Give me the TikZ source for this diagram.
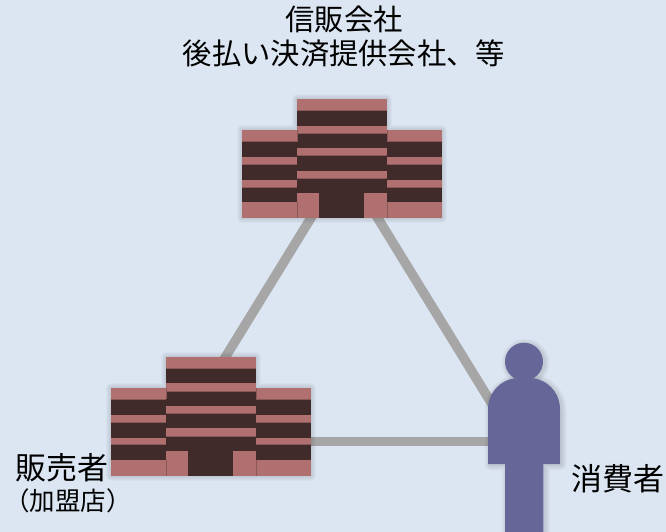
\documentclass[tikz,border=0pt]{standalone}
\usepackage{fontspec}
\setmainfont{Noto Sans CJK JP}
\definecolor{bgc}{HTML}{DCE6F2}
\definecolor{pinkc}{HTML}{B07070}
\definecolor{pinke}{HTML}{8A5858}
\definecolor{darkc}{HTML}{412A2A}
\definecolor{linec}{HTML}{A6A6A6}
\definecolor{personc}{HTML}{666699}
\tikzset{
  x=1pt,y=-1pt,
  link/.style={draw=linec,line width=9.5pt},
  pinkbar/.style={fill=pinkc},
  edgebar/.style={draw=pinke,line width=.5pt},
  darkbar/.style={fill=darkc},
  glow/.style={draw=black,opacity=.025,line join=round},
  person/.style={fill=personc},
  caption/.style={anchor=base,inner sep=0pt,text=black},
  pics/building/.style={code={
    \foreach \w in {2,4,6,8,10}{
      \draw[glow,line width=\w pt] (0,31)--(55,31)--(55,0)--(145,0)--(145,31)--(200,31)--(200,119)--(0,119)--cycle;
    }
    \fill[darkbar] (0,42.7) rectangle (200,119);
    \fill[darkbar] (55,11.7) rectangle (145,119);
    % left wing
    \path[pinkbar] (0,31) rectangle (54.6,42.7);
    \path[pinkbar] (0,58.3) rectangle (54.6,65.7);
    \path[pinkbar] (0,81) rectangle (54.6,88);
    \path[pinkbar] (0,103.3) rectangle (54.6,119);
    % right wing
    \path[pinkbar] (145.4,31) rectangle (200,42.7);
    \path[pinkbar] (145.4,58.3) rectangle (200,65.7);
    \path[pinkbar] (145.4,81) rectangle (200,88);
    \path[pinkbar] (145.4,103.3) rectangle (200,119);
    % centre
    \path[pinkbar] (55.4,0) rectangle (144.6,11.7);
    \path[pinkbar] (55.4,26.7) rectangle (144.6,34.3);
    \path[pinkbar] (55.4,49.3) rectangle (144.6,56.7);
    \path[pinkbar] (55.4,71.7) rectangle (144.6,79.3);
    \path[pinkbar] (55.4,94.3) rectangle (77.3,119);
    \path[pinkbar] (122.3,94.3) rectangle (144.6,119);
    % soft lower edges of the bands
    \foreach \a/\b/\y in {0/54.6/42.7,0/54.6/65.7,0/54.6/88,145.4/200/42.7,145.4/200/65.7,145.4/200/88,55.4/144.6/11.7,55.4/144.6/34.3,55.4/144.6/56.7,55.4/144.6/79.3}{
      \draw[edgebar] (\a,\y) -- (\b,\y);
    }
    % seams between wings and centre block
    \draw[edgebar] (55,103.3) -- (55,119) (145,103.3) -- (145,119);
    \draw[edgebar] (55,31) -- (55,42.7) (145,31) -- (145,42.7);
  }}
}
\begin{document}
\begin{tikzpicture}
\useasboundingbox (0,0) rectangle (666,532);
\fill[bgc] (0,0) rectangle (666,532);
% connector anchors
\coordinate (trust) at (342,160);
\coordinate (trustl) at (346.6,160);
\coordinate (seller) at (199.6,399);
\coordinate (sellerh) at (210,441.5);
\coordinate (buyer) at (515,441.5);
\draw[link] (trustl) -- (seller);
\draw[link] (trust) -- (buyer);
\draw[link] (sellerh) -- (buyer);
\pic at (242,99) {building};
\pic at (111,356.7) {building};
% person
\def\bodypath{(488,464) -- (488,409) arc[start angle=180,end angle=270,radius=31] -- (529,378) arc[start angle=270,end angle=360,radius=31] -- (560,464) -- (543.3,464) -- (543.3,532) -- (505,532) -- (505,464) -- cycle}
\foreach \w in {2,4,6,8,10}{
  \draw[glow,line width=\w pt,shift={(1.5,1)}] \bodypath;
  \draw[glow,line width=\w pt,shift={(1.5,1)}] (524,361.7) circle[radius=19];
}
\fill[person] \bodypath;
\fill[person] (524,361.7) circle[radius=19];
% labels
\node[caption,font=\fontsize{29.3}{29.3}\selectfont] (t1) at (344,31) {信販会社};
\node[caption,font=\fontsize{29.3}{29.3}\selectfont] (t2) at (344,65) {後払い決済提供会社、等};
\node[caption,font=\fontsize{31}{31}\selectfont] (s1) at (61.5,479) {販売者};
\node[caption,font=\fontsize{25.5}{25.5}\selectfont] (s2) at (68,510) {（加盟店）};
\node[caption,font=\fontsize{31}{31}\selectfont] (b1) at (617.5,490) {消費者};
\end{tikzpicture}
\end{document}
